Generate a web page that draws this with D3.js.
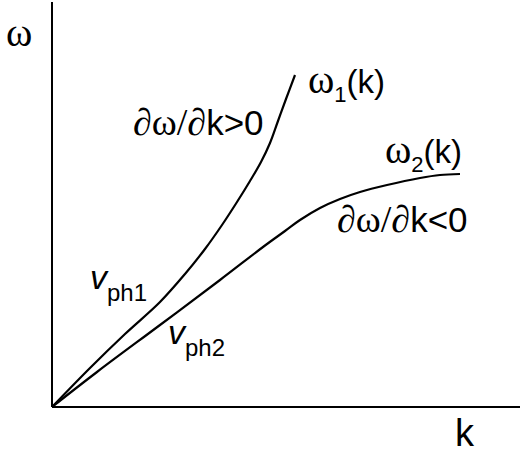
<!DOCTYPE html>
<html>
<head>
<meta charset="utf-8">
<script src="https://cdn.jsdelivr.net/npm/d3@7"></script>
<style>
  body { margin: 0; background: #fff; }
  .serif { font-family: "Liberation Serif", "DejaVu Serif", serif; }
  .sans { font-family: "Liberation Sans", Arial, sans-serif; }
</style>
</head>
<body>
<svg width="523" height="465"></svg>
<script>
var w = 523, h = 465;

// dispersion curves, arbitrary units
var k1 = [0, 0.76, 1.46, 2.16, 2.66, 3.06, 3.40, 3.70, 3.96, 4.18, 4.36, 4.52, 4.68, 4.86];
var omega1 = [0, 0.78, 1.46, 2.10, 2.66, 3.16, 3.64, 4.10, 4.52, 4.90, 5.28, 5.72, 6.16, 6.64];

var k2 = [0, 0.9, 2.16, 3.36, 4.22, 4.66, 4.96, 5.36, 5.76, 6.16, 6.7, 7.36, 7.76, 8.16];
var omega2 = [0, 0.7, 1.64, 2.54, 3.2, 3.52, 3.74, 3.98, 4.16, 4.3, 4.44, 4.58, 4.64, 4.66];

var kMax = 9.36, omegaMax = 8.1;

var x = d3.scaleLinear().domain([0, kMax]).range([52, 520]);
var y = d3.scaleLinear().domain([0, omegaMax]).range([407, 2]);

var svg = d3.select("svg");

// axes
svg.append("line")
  .attr("x1", x(0)).attr("y1", y(0))
  .attr("x2", x(0)).attr("y2", y(omegaMax))
  .attr("stroke", "#000").attr("stroke-width", 2);
svg.append("line")
  .attr("x1", x(0)).attr("y1", y(0))
  .attr("x2", x(kMax)).attr("y2", y(0))
  .attr("stroke", "#000").attr("stroke-width", 2);

var line = d3.line()
  .x(function(d){ return x(d[0]); })
  .y(function(d){ return y(d[1]); })
  .curve(d3.curveCatmullRom);

[[k1, omega1], [k2, omega2]].forEach(function(s){
  var pts = s[0].map(function(k, i){ return [k, s[1][i]]; });
  svg.append("path")
    .datum(pts)
    .attr("d", line)
    .attr("fill", "none")
    .attr("stroke", "#000")
    .attr("stroke-width", 2.2);
});

// labels: each part is [text, class, size, dy, italic]
function label(px, py, parts){
  var t = svg.append("text").attr("x", px).attr("y", py).attr("fill", "#000");
  parts.forEach(function(p){
    var s = t.append("tspan")
      .attr("class", p[1])
      .attr("font-size", p[2])
      .text(p[0]);
    if (p[3]) s.attr("dy", p[3]);
    if (p[4]) s.attr("font-style", "italic");
  });
}

label(6, 46, [["ω", "serif", 40]]);
label(455, 446, [["k", "sans", 38]]);

label(133, 135, [["∂ω/∂", "serif", 38], ["k>0", "sans", 35]]);
label(337, 232, [["∂ω/∂", "serif", 38], ["k<0", "sans", 35]]);

label(308, 93, [["ω", "serif", 40], ["1", "sans", 22, 9], ["(k)", "sans", 33, -9]]);
label(385, 163, [["ω", "serif", 40], ["2", "sans", 22, 9], ["(k)", "sans", 33, -9]]);

label(90, 289, [["v", "sans", 34, 0, true], ["ph1", "sans", 24, 12]]);
label(168, 344, [["v", "sans", 34, 0, true], ["ph2", "sans", 24, 12]]);
</script>
</body>
</html>
